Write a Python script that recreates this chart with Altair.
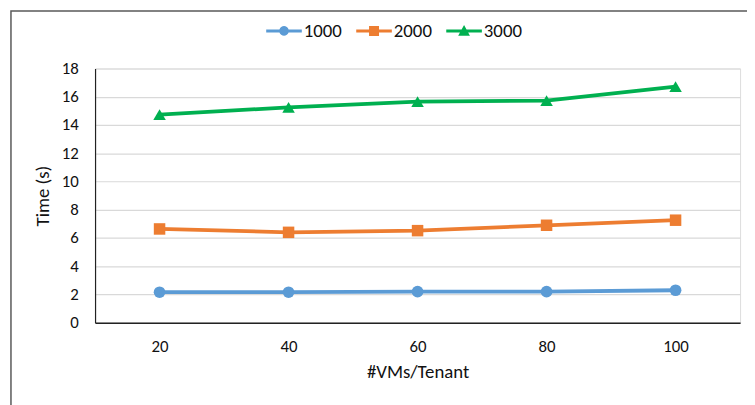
import math
import altair as alt
import pandas as pd

vms = ["20", "40", "60", "80", "100"]
series = ["1000", "2000", "3000"]
t1000 = [2.16, 2.16, 2.20, 2.20, 2.30]
t2000 = [6.64, 6.40, 6.52, 6.90, 7.26]
t3000 = [14.73, 15.25, 15.65, 15.72, 16.72]
colors = ["#5B9BD5", "#ED7D31", "#00B050"]
y_ticks = [0, 2, 4, 6, 8, 10, 12, 14, 16, 18]

rows = []
for s, vals in zip(series, [t1000, t2000, t3000]):
    for v, t in zip(vms, vals):
        rows.append({"VMs": v, "Series": s, "Time": t})
df = pd.DataFrame(rows)

FONT = "Carlito, Calibri, Lato, sans-serif"

# legend symbols (style only): a line segment with the marker in its middle
seg = "M-1,-0.085 L1,-0.085 L1,0.085 L-1,0.085 Z"
circ = "M" + " L".join(
    "%.3f,%.3f" % (0.27 * math.cos(2 * math.pi * k / 20), 0.27 * math.sin(2 * math.pi * k / 20))
    for k in range(20)
) + " Z"
sq = "M-0.28,-0.28 L0.28,-0.28 L0.28,0.28 L-0.28,0.28 Z"
tri = "M0,-0.33 L0.33,0.27 L-0.33,0.27 Z"
legend_paths = [seg + " " + circ, seg + " " + sq, seg + " " + tri]

X = alt.X("VMs:N", sort=vms, title="#VMs/Tenant",
          axis=alt.Axis(labelAngle=0, ticks=False, grid=False, domainColor="#222222",
                        domainWidth=1.5, labelPadding=16, titlePadding=8,
                        labelFontSize=17, titleFontSize=19, labelFont=FONT, titleFont=FONT,
                        labelColor="#111111", titleColor="#111111", titleFontWeight="normal"))
Y = alt.Y("Time:Q", title="Time (s)", scale=alt.Scale(domain=[0, 18], nice=False),
          axis=alt.Axis(values=y_ticks, ticks=False, grid=True, gridColor="#D9D9D9",
                        gridWidth=1.2, domainColor="#222222", domainWidth=1.2,
                        labelPadding=17, titlePadding=9,
                        labelFontSize=17, titleFontSize=19, labelFont=FONT, titleFont=FONT,
                        labelColor="#111111", titleColor="#111111", titleFontWeight="normal"))

base = alt.Chart(df)

shapes = ["circle", "square", "triangle-up"]
sizes = [140, 135, 160]
line_layers = []
point_layers = []
for s, c, sh, sz in zip(series, colors, shapes, sizes):
    sub = base.transform_filter(alt.datum.Series == s)
    line_layers.append(sub.mark_line(strokeWidth=3.8, color=c).encode(x=X, y=Y))
    point_layers.append(
        sub.mark_point(shape=sh, filled=True, size=sz, color=c, opacity=1).encode(x=X, y=Y)
    )

leg = alt.Legend(orient="none", legendX=173, legendY=-56, direction="horizontal",
                 title=None, symbolSize=1296, symbolStrokeWidth=0, symbolOpacity=1,
                 labelFontSize=19, labelFont=FONT, labelColor="#111111", labelOffset=2,
                 columnPadding=14)
legend_layer = base.mark_point(filled=True, opacity=0, size=1).encode(
    x=X, y=Y,
    color=alt.Color("Series:N", scale=alt.Scale(domain=series, range=colors), legend=leg),
    shape=alt.Shape("Series:N", scale=alt.Scale(domain=series, range=legend_paths), legend=leg),
)

border = alt.Chart(alt.Data(values=[{"a": 1}])).mark_rect(
    fill="transparent", stroke="#595959", strokeWidth=1.5
).encode(x=alt.value(-85), x2=alt.value(900), y=alt.value(-58), y2=alt.value(600))

chart = alt.layer(border, *line_layers, *point_layers, legend_layer).properties(
    width=652, height=257,
    padding={"left": 88, "top": 59, "right": 7, "bottom": 81},
    autosize=alt.AutoSizeParams(type="none"),
).configure_view(stroke=None).configure(background="white")

chart.save("out.html", embed_options={"renderer": "svg", "actions": False})
